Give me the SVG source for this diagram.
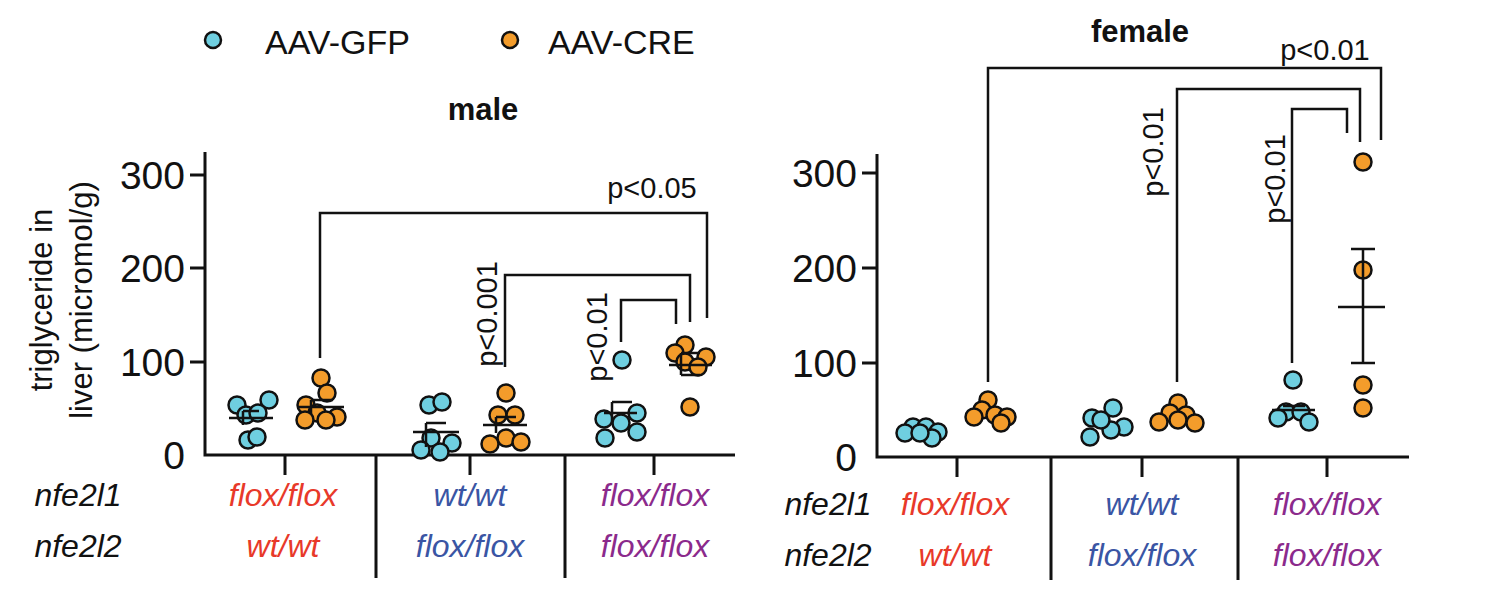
<svg xmlns="http://www.w3.org/2000/svg" width="1485" height="602" viewBox="0 0 1485 602">
<style>
text{font-family:"Liberation Sans",Arial,sans-serif;fill:#111}
.ax{stroke:#111;stroke-width:3;fill:none}
.br{stroke:#111;stroke-width:2.5;fill:none}
.g{fill:#6fcfe0;stroke:#111;stroke-width:2.5}
.c{fill:#f39c2b;stroke:#111;stroke-width:2.5}
.tk{font-size:39px;text-anchor:end}
.p{font-size:29px}
.cat{font-size:32px;font-style:italic;text-anchor:middle}
.r{fill:#e8392a}.b{fill:#3a55a4}.pu{fill:#8b2a8c}
</style>
<rect width="1485" height="602" fill="#fff"/>
<g id="legend">
<circle class="g" cx="213" cy="40" r="8"/><text x="265" y="54" font-size="34">AAV-GFP</text>
<circle class="c" cx="510" cy="40" r="8"/><text x="548" y="54" font-size="34">AAV-CRE</text>
</g>
<text x="483" y="120" font-size="31" font-weight="bold" text-anchor="middle">male</text>
<text x="1140" y="42" font-size="31" font-weight="bold" text-anchor="middle">female</text>
<g font-size="31" text-anchor="middle">
<text transform="translate(52,300) rotate(-90)">triglyceride in</text>
<text transform="translate(92,300) rotate(-90)">liver (micromol/g)</text>
</g>
<g id="axes">
<path class="ax" d="M205,152V455H735M190,175H205M190,268H205M190,362H205M285,455V475M470,455V475M654,455V475M376,455V578M565,455V578"/>
<text class="tk" x="185" y="189">300</text><text class="tk" x="185" y="282">200</text><text class="tk" x="185" y="376">100</text><text class="tk" x="185" y="469">0</text>
<path class="ax" d="M877,154V457H1409M862,173H877M862,268H877M862,363H877M957,457V477M1142,457V477M1327,457V477M1051,457V580M1238,457V580"/>
<text class="tk" x="857" y="187">300</text><text class="tk" x="857" y="282">200</text><text class="tk" x="857" y="377">100</text><text class="tk" x="857" y="471">0</text>
</g>
<g id="categories">
<text class="cat" x="78" y="506">nfe2l1</text><text class="cat" x="78" y="557">nfe2l2</text>
<text class="cat r" x="283" y="506">flox/flox</text><text class="cat r" x="283" y="557">wt/wt</text>
<text class="cat b" x="470" y="506">wt/wt</text><text class="cat b" x="470" y="557">flox/flox</text>
<text class="cat pu" x="655" y="506">flox/flox</text><text class="cat pu" x="655" y="557">flox/flox</text>
<text class="cat" x="828" y="515">nfe2l1</text><text class="cat" x="828" y="566">nfe2l2</text>
<text class="cat r" x="955" y="515">flox/flox</text><text class="cat r" x="955" y="566">wt/wt</text>
<text class="cat b" x="1142" y="515">wt/wt</text><text class="cat b" x="1142" y="566">flox/flox</text>
<text class="cat pu" x="1327" y="515">flox/flox</text><text class="cat pu" x="1327" y="566">flox/flox</text>
</g>
<g id="points">
<circle class="g" cx="237" cy="405" r="8.5"/><circle class="g" cx="269" cy="400" r="8.5"/><circle class="g" cx="246" cy="415" r="8.5"/><circle class="g" cx="258" cy="413" r="8.5"/><circle class="g" cx="248" cy="440" r="8.5"/><circle class="g" cx="257" cy="437" r="8.5"/>
<circle class="c" cx="321" cy="378" r="8.5"/><circle class="c" cx="327" cy="393" r="8.5"/><circle class="c" cx="306" cy="405" r="8.5"/><circle class="c" cx="317" cy="413" r="8.5"/><circle class="c" cx="337" cy="417" r="8.5"/><circle class="c" cx="305" cy="420" r="8.5"/><circle class="c" cx="326" cy="420" r="8.5"/>
<circle class="g" cx="429" cy="405" r="8.5"/><circle class="g" cx="442" cy="402" r="8.5"/><circle class="g" cx="431" cy="438" r="8.5"/><circle class="g" cx="452" cy="443" r="8.5"/><circle class="g" cx="421" cy="450" r="8.5"/><circle class="g" cx="440" cy="452" r="8.5"/>
<circle class="c" cx="506" cy="393" r="8.5"/><circle class="c" cx="498" cy="415" r="8.5"/><circle class="c" cx="515" cy="415" r="8.5"/><circle class="c" cx="506" cy="438" r="8.5"/><circle class="c" cx="521" cy="442" r="8.5"/><circle class="c" cx="490" cy="444" r="8.5"/>
<circle class="g" cx="622" cy="360" r="8.5"/><circle class="g" cx="637" cy="413" r="8.5"/><circle class="g" cx="604" cy="419" r="8.5"/><circle class="g" cx="621" cy="423" r="8.5"/><circle class="g" cx="637" cy="432" r="8.5"/><circle class="g" cx="605" cy="438" r="8.5"/>
<circle class="c" cx="685" cy="345" r="8.5"/><circle class="c" cx="675" cy="353" r="8.5"/><circle class="c" cx="706" cy="357" r="8.5"/><circle class="c" cx="685" cy="362" r="8.5"/><circle class="c" cx="698" cy="367" r="8.5"/><circle class="c" cx="690" cy="407" r="8.5"/>
<circle class="g" cx="913" cy="427" r="8.5"/><circle class="g" cx="926" cy="427" r="8.5"/><circle class="g" cx="905" cy="433" r="8.5"/><circle class="g" cx="938" cy="432" r="8.5"/><circle class="g" cx="932" cy="438" r="8.5"/><circle class="g" cx="920" cy="433" r="8.5"/>
<circle class="c" cx="988" cy="400" r="8.5"/><circle class="c" cx="982" cy="410" r="8.5"/><circle class="c" cx="995" cy="415" r="8.5"/><circle class="c" cx="974" cy="417" r="8.5"/><circle class="c" cx="1007" cy="417" r="8.5"/><circle class="c" cx="1001" cy="423" r="8.5"/>
<circle class="g" cx="1113" cy="408" r="8.5"/><circle class="g" cx="1092" cy="418" r="8.5"/><circle class="g" cx="1124" cy="427" r="8.5"/><circle class="g" cx="1111" cy="430" r="8.5"/><circle class="g" cx="1090" cy="437" r="8.5"/><circle class="g" cx="1101" cy="420" r="8.5"/>
<circle class="c" cx="1178" cy="403" r="8.5"/><circle class="c" cx="1170" cy="413" r="8.5"/><circle class="c" cx="1186" cy="415" r="8.5"/><circle class="c" cx="1159" cy="422" r="8.5"/><circle class="c" cx="1178" cy="420" r="8.5"/><circle class="c" cx="1195" cy="423" r="8.5"/>
<circle class="g" cx="1293" cy="380" r="8.5"/><circle class="g" cx="1286" cy="412" r="8.5"/><circle class="g" cx="1301" cy="412" r="8.5"/><circle class="g" cx="1278" cy="418" r="8.5"/><circle class="g" cx="1309" cy="422" r="8.5"/>
<circle class="c" cx="1363" cy="162" r="8.5"/><circle class="c" cx="1363" cy="270" r="8.5"/><circle class="c" cx="1363" cy="385" r="8.5"/><circle class="c" cx="1363" cy="408" r="8.5"/>
</g>
<g id="means" class="br">
<path d="M229,418H273M243,411V425M243,411H259"/>
<path d="M297,407H344M311,400V414M311,400H333"/>
<path d="M413,432H459M426,423V447M426,423H446"/>
<path d="M483,425H527M496,417V433M496,417H516"/>
<path d="M604,413H637M612,402V424M612,402H632"/>
<path d="M669,365H712M681,353V375M681,353H700M681,375H700"/>
<path d="M1272,410H1315M1283,406H1305"/>
<path d="M1338,307H1385M1363,249V363M1351,249H1375M1351,363H1375"/>
</g>
<g id="connectors" class="br">
<path d="M320,358V213H707V318"/>
<path d="M505,367V275H690V322"/>
<path d="M621,342V300H676V324"/>
<path d="M988,382V68H1381V140"/>
<path d="M1177,382V89H1360V142"/>
<path d="M1292,363V109H1347V133"/>
</g>
<g id="labels">
<text class="p" x="652" y="198" text-anchor="middle">p&lt;0.05</text>
<text class="p" transform="translate(497,314) rotate(-90)" text-anchor="middle">p&lt;0.001</text>
<text class="p" transform="translate(607,337) rotate(-90)" text-anchor="middle">p&lt;0.01</text>
<text class="p" x="1325" y="60" text-anchor="middle">p&lt;0.01</text>
<text class="p" transform="translate(1163,152) rotate(-90)" text-anchor="middle">p&lt;0.01</text>
<text class="p" transform="translate(1285,179) rotate(-90)" text-anchor="middle">p&lt;0.01</text>
</g>
</svg>
